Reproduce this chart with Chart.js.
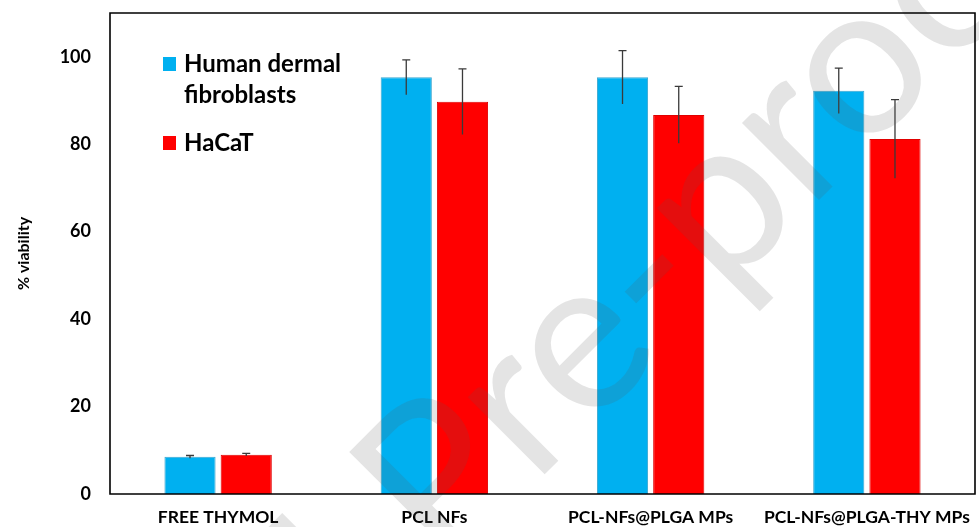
<!DOCTYPE html>
<html>
<head>
<meta charset="utf-8">
<script src="https://cdn.jsdelivr.net/npm/chart.js@4/dist/chart.umd.min.js"></script>
<style>
  html, body { margin: 0; padding: 0; background: #fff; overflow: hidden; }
  #wrap { width: 979px; height: 527px; position: relative; }
</style>
</head>
<body>
<div id="wrap"><canvas id="c"></canvas></div>
<script>
const categories = ["FREE THYMOL", "PCL NFs", "PCL-NFs@PLGA MPs", "PCL-NFs@PLGA-THY MPs"];
const fibroblastValues = [8.5, 95.3, 95.3, 92.2];
const fibroblastErrors = [0.3, 4.0, 6.1, 5.2];
const hacatValues = [9.0, 89.7, 86.7, 81.2];
const hacatErrors = [0.3, 7.5, 6.5, 9.0];
const yTicks = [0, 20, 40, 60, 80, 100];
const legendLabels = [["Human dermal", "fibroblasts"], ["HaCaT"]];
const watermarkText = "Journal Pre-proof";

const FONT = "Lato, 'Open Sans', sans-serif";
const BLUE = "#00B0F0";
const RED = "#FF0000";

const errorBars = {
  id: "errorBars",
  afterDatasetsDraw(chart) {
    const ctx = chart.ctx;
    const y = chart.scales.y;
    chart.data.datasets.forEach((ds, di) => {
      const meta = chart.getDatasetMeta(di);
      meta.data.forEach((bar, i) => {
        const v = ds.data[i], e = ds.errors[i];
        const yt = y.getPixelForValue(v + e), yb = y.getPixelForValue(v - e);
        ctx.save();
        ctx.strokeStyle = "#3a3a3a";
        ctx.lineWidth = 1.3;
        ctx.beginPath();
        ctx.moveTo(bar.x, yt); ctx.lineTo(bar.x, yb);
        ctx.moveTo(bar.x - 4, yt); ctx.lineTo(bar.x + 4, yt);
        ctx.stroke();
        ctx.restore();
      });
    });
  }
};

const customLegend = {
  id: "customLegend",
  afterDraw(chart) {
    const { ctx, chartArea: a } = chart;
    const colors = [BLUE, RED];
    const rows = [[72, 103], [151]];
    ctx.save();
    ctx.font = "bold 24px " + FONT;
    ctx.textBaseline = "alphabetic";
    legendLabels.forEach((lines, k) => {
      const base = rows[k][0];
      ctx.fillStyle = colors[k];
      ctx.fillRect(a.left + 53, base - 15, 13, 14);
      ctx.fillStyle = "#000";
      lines.forEach((t, j) => ctx.fillText(t, a.left + 74, rows[k][j]));
    });
    ctx.restore();
  }
};

const watermark = {
  id: "watermark",
  afterDraw(chart) {
    const ctx = chart.ctx;
    const size = 215;
    const ang = -45 * Math.PI / 180;
    ctx.save();
    ctx.font = size + "px " + FONT;
    const w1 = ctx.measureText("Journal Pr").width;
    const we = ctx.measureText("e").width;
    const px = w1 + we / 2, py = -0.26 * size;
    const c = Math.cos(ang), s = Math.sin(ang);
    const tx = 590 - (px * c - py * s), ty = 350 - (px * s + py * c);
    ctx.translate(tx, ty);
    ctx.rotate(ang);
    ctx.fillStyle = "rgba(90,90,90,0.16)";
    ctx.textAlign = "left";
    ctx.textBaseline = "alphabetic";
    ctx.fillText(watermarkText, 0, 0);
    ctx.restore();
  }
};

const frame = {
  id: "frame",
  afterDraw(chart) {
    const { ctx, chartArea: a } = chart;
    ctx.save();
    ctx.strokeStyle = "#000";
    ctx.lineWidth = 1.6;
    ctx.beginPath();
    ctx.moveTo(a.left, a.top); ctx.lineTo(a.right, a.top);
    ctx.lineTo(a.right, a.bottom); ctx.lineTo(a.left, a.bottom);
    ctx.closePath();
    ctx.stroke();
    ctx.restore();
  }
};

new Chart(document.getElementById("c"), {
  type: "bar",
  data: {
    labels: categories,
    datasets: [
      { label: "Human dermal fibroblasts", data: fibroblastValues, errors: fibroblastErrors,
        backgroundColor: BLUE, borderColor: "#3aa6cf", borderWidth: 1 },
      { label: "HaCaT", data: hacatValues, errors: hacatErrors,
        backgroundColor: RED, borderColor: "#e00000", borderWidth: 1 }
    ]
  },
  options: {
    responsive: true,
    maintainAspectRatio: false,
    animation: false,
    layout: { padding: { top: 13, right: 4, left: 0, bottom: 0 } },
    datasets: { bar: { categoryPercentage: 0.52, barPercentage: 0.91 } },
    plugins: { legend: { display: false }, tooltip: { enabled: false } },
    scales: {
      x: {
        grid: { display: false, drawTicks: false },
        border: { display: false },
        ticks: { color: "#000", font: { family: FONT, size: 17.5, weight: "bold" }, padding: 13, maxRotation: 0, autoSkip: false },
        afterFit(s) { s.height = 33; s.paddingLeft = 0; s.paddingRight = 0; }
      },
      y: {
        min: 0, max: 110,
        afterBuildTicks(s) { s.ticks = yTicks.map(v => ({ value: v })); },
        grid: { display: false, drawTicks: false },
        border: { display: false },
        ticks: { color: "#000", font: { family: FONT, size: 18, weight: "bold" }, padding: 19 },
        title: { display: true, text: "% viability", color: "#000", font: { family: FONT, size: 16, weight: "bold" }, padding: { top: 14, bottom: 0 } },
        afterFit(s) { s.width = 110; s.paddingTop = 0; s.paddingBottom = 0; }
      }
    }
  },
  plugins: [errorBars, customLegend, watermark, frame]
});
</script>
</body>
</html>
